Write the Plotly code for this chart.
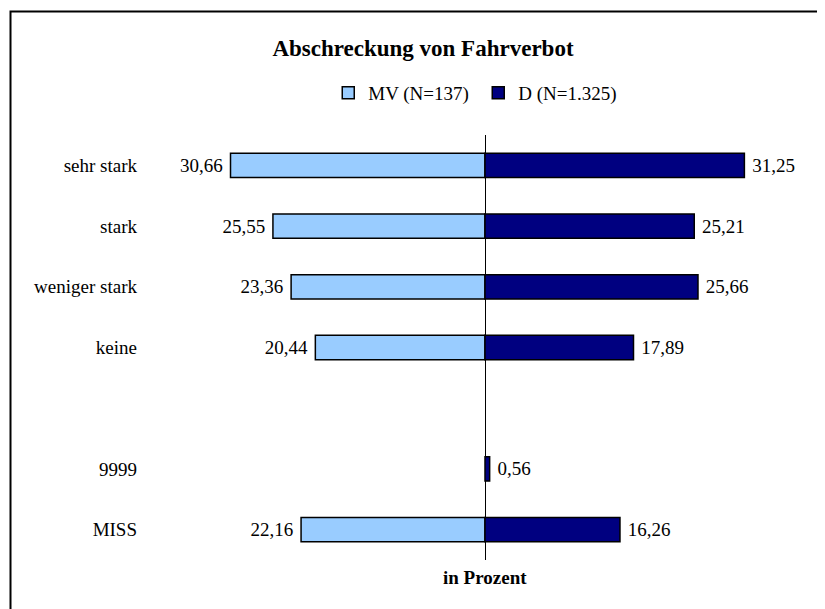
import plotly.graph_objects as go

categories = ["sehr stark", "stark", "weniger stark", "keine", " ", "9999", "MISS"]
mv_values = [30.66, 25.55, 23.36, 20.44, None, None, 22.16]
d_values = [31.25, 25.21, 25.66, 17.89, None, 0.56, 16.26]
series_names = ["MV (N=137)", "D (N=1.325)"]
colors = ["#99CCFF", "#000080"]

FONT = "Liberation Serif, Times New Roman, serif"
FS = 19

def fmt_left(v):
    return "" if v is None else f"{v:.2f}".replace(".", ",") + "\u00a0"

def fmt_right(v):
    return "" if v is None else "\u00a0" + f"{v:.2f}".replace(".", ",")

fig = go.Figure()
fig.add_trace(go.Bar(
    y=categories, x=[None if v is None else -v for v in mv_values],
    orientation="h", name=series_names[0],
    marker=dict(color=colors[0], line=dict(color="black", width=1.5)),
    text=[fmt_left(v) for v in mv_values], textposition="outside",
    textfont=dict(family=FONT, size=FS, color="black"), cliponaxis=False,
))
fig.add_trace(go.Bar(
    y=categories, x=d_values,
    orientation="h", name=series_names[1],
    marker=dict(color=colors[1], line=dict(color="black", width=1.5)),
    text=[fmt_right(v) for v in d_values], textposition="outside",
    textfont=dict(family=FONT, size=FS, color="black"), cliponaxis=False,
))

fig.update_layout(
    width=825, height=609,
    margin=dict(l=142, r=33, t=127, b=57),
    paper_bgcolor="white", plot_bgcolor="white",
    barmode="overlay", bargap=0.6,
    font=dict(family=FONT, size=FS, color="black"),
    title=dict(text="<b>Abschreckung von Fahrverbot</b>", x=0.503, xanchor="center",
               y=0.934, yanchor="middle", font=dict(family=FONT, size=23, color="black")),
    legend=dict(orientation="h", x=0.505, xanchor="center", y=1.099, yanchor="middle",
                font=dict(family=FONT, size=FS, color="black"), traceorder="normal",
                itemwidth=30, entrywidth=105, entrywidthmode="pixels"),
    showlegend=True,
)
fig.update_xaxes(range=[-40.36, 37.95], showticklabels=False, showgrid=False,
                 zeroline=True, zerolinecolor="black", zerolinewidth=1, fixedrange=True)
fig.update_yaxes(categoryorder="array", categoryarray=categories, autorange="reversed",
                 showgrid=False, zeroline=False, ticks="", ticklabelstandoff=12,
                 tickfont=dict(family=FONT, size=FS, color="black"))

fig.add_annotation(x=0, xref="x", y=-0.042, yref="paper", text="<b>in Prozent</b>",
                   showarrow=False, font=dict(family=FONT, size=FS, color="black"),
                   yanchor="middle")
fig.add_shape(type="rect", xref="paper", yref="paper",
              x0=(2.5 - 142) / 650, x1=1.5, y0=-0.5, y1=(552 - 3.5) / 425,
              line=dict(color="black", width=2), layer="below")

fig.write_html("out.html")
